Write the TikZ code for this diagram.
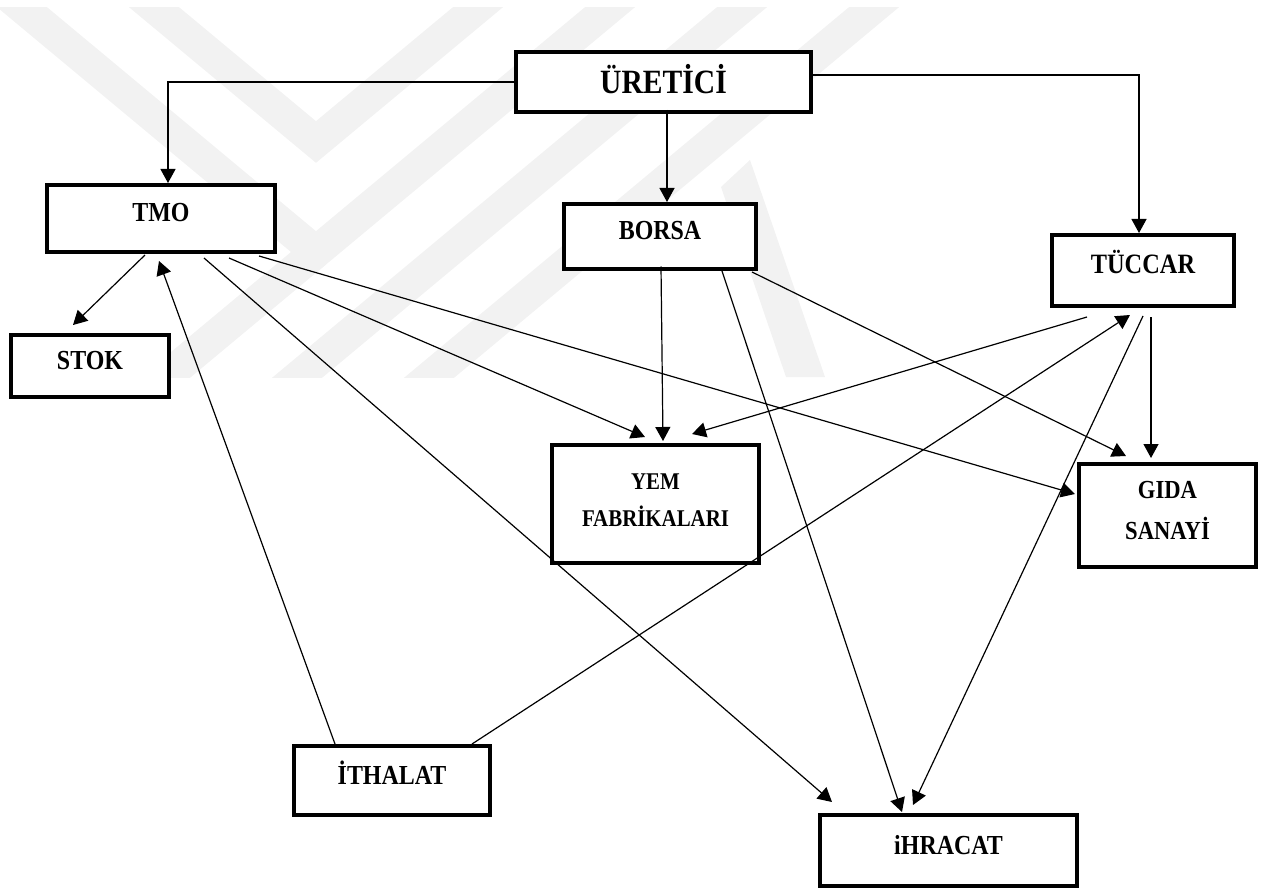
\documentclass[tikz,border=0pt]{standalone}
\usepackage{fontspec}
\setmainfont{Liberation Serif}[FakeStretch=0.87]
\usetikzlibrary{arrows.meta,calc}
\definecolor{wmgray}{RGB}{242,242,242}
\tikzset{
  box/.style={draw, line width=4pt, fill=white, inner sep=0pt, font=\bfseries\fontsize{27.5}{30}\selectfont},
  oneline/.style={text height=18pt, text depth=11pt},
  link/.style={line width=1.2pt, -{Triangle[length=14pt,width=15pt]}},
  wmband/.style={line width=32pt, draw=wmgray, line join=miter}
}
\begin{document}
\begin{tikzpicture}[x=1pt,y=-1pt]
\useasboundingbox (0,0) rectangle (1266,893);
% watermark
\begin{scope}
  \clip (0,8) rectangle (1266,377);
  \draw[wmband] (-1,-12) -- (316,252) -- (633,-12);
  \draw[wmband] (316,252) -- (142,397);
  \draw[wmband] (131,-12) -- (316,142) -- (501,-12);
  \draw[wmband] (765,-12) -- (274,397);
  \draw[wmband] (897,-12) -- (406,397);
  \fill[wmgray] (721,187) -- (750,160) -- (825,377) -- (786,377) -- cycle;
\end{scope}
% boxes
\node[box, font=\bfseries\fontsize{34}{36}\selectfont, text height=22.5pt, text depth=0pt, minimum width=295pt, minimum height=60pt] (uret) at (663.5,82) {ÜRETİCİ};
\node[box, oneline, minimum width=228pt, minimum height=67pt] (tmo) at (161,218.5) {TMO};
\node[box, oneline, minimum width=158pt, minimum height=62pt] (stok) at (90,366) {STOK};
\node[box, oneline, minimum width=192pt, minimum height=65pt] (borsa) at (660,236.5) {BORSA};
\node[box, oneline, font=\bfseries\fontsize{28}{30}\selectfont, minimum width=182pt, minimum height=71pt] (tuccar) at (1143,270.5) {TÜCCAR};
\node[box, align=center, font=\bfseries\fontsize{24}{37}\selectfont, minimum width=207pt, minimum height=118pt] (yem) at (655.5,504) {YEM\\FABRİKALARI\rule[-7pt]{0pt}{7pt}};
\node[box, align=center, font=\bfseries\fontsize{26}{41}\selectfont, minimum width=177pt, minimum height=103pt] (gida) at (1167.5,515.5) {GIDA\\SANAYİ\rule[-10pt]{0pt}{10pt}};
\node[box, oneline, minimum width=196pt, minimum height=69pt] (ithalat) at (392,780.5) {İTHALAT};
\node[box, oneline, minimum width=257pt, minimum height=71pt] (ihracat) at (948.5,850.5) {iHRACAT};
% connectors
\draw[link] (uret.west) -| ($(tmo.north)+(7,0)$);
\draw[link] ($(uret.east)+(0,-7)$) -| ($(tuccar.north)+(-4,0)$);
\draw[link] ($(uret.south)+(3.5,-4)$) -- ($(borsa.north)+(7,0)$);
\draw[link] ($(tmo)+(-16,36.5)$) -- ($(stok)+(-17,-41)$);
\draw[link] ($(ithalat)+(-57,-36.5)$) -- ($(tmo)+(-2,42.5)$);
\draw[link] ($(tmo)+(43,39.5)$) -- ($(ihracat)+(-116.5,-48.5)$);
\draw[link] ($(tmo)+(68,39.5)$) -- ($(yem)+(-10.5,-67)$);
\draw[link] ($(tmo)+(98,37.5)$) -- ($(gida)+(-92.5,-21.5)$);
\draw[link] ($(borsa)+(1,30)$) -- ($(yem)+(7.5,-63)$);
\draw[link] ($(borsa)+(62,34.5)$) -- ($(ihracat)+(-46.5,-38.5)$);
\draw[link] ($(borsa)+(92,35.5)$) -- ($(gida)+(-41.5,-59.5)$);
\draw[link] ($(tuccar)+(-56,46.5)$) -- ($(yem)+(36.5,-70)$);
\draw[link] ($(ithalat)+(80,-36.5)$) -- ($(tuccar)+(-13,44.5)$);
\draw[link] ($(tuccar)+(0,45.5)$) -- ($(ihracat)+(-35.5,-45.5)$);
\draw[link] ($(tuccar)+(8,46.5)$) -- ($(gida)+(-16.5,-57.5)$);
\end{tikzpicture}
\end{document}
